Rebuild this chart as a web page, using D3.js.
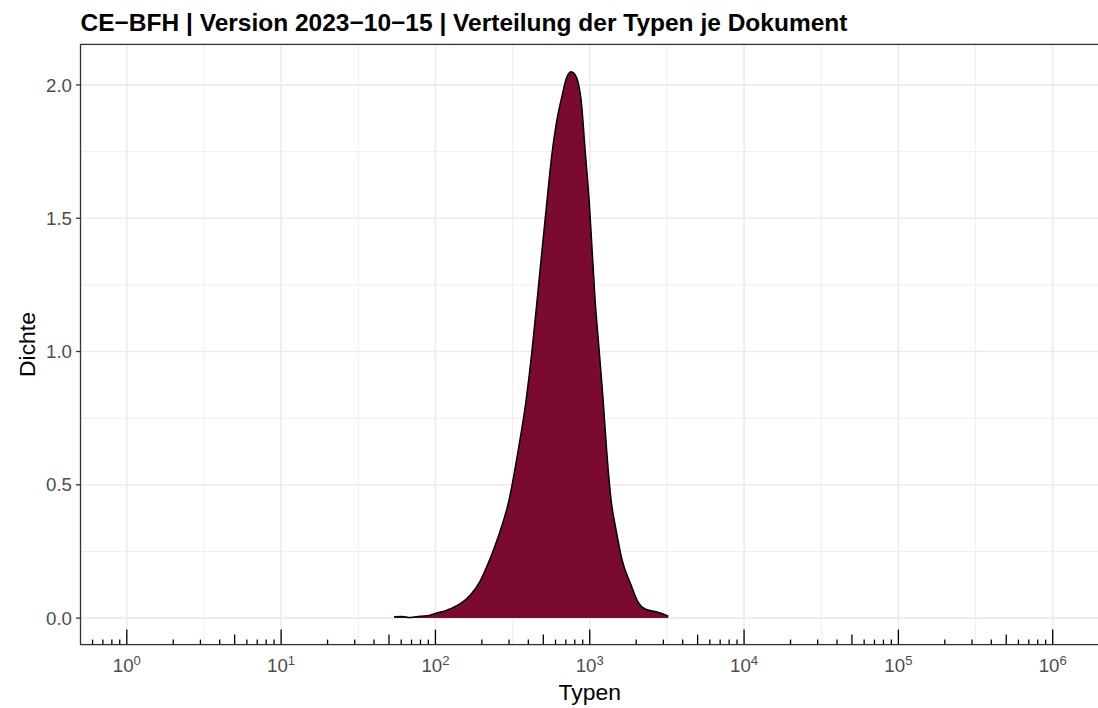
<!DOCTYPE html>
<html>
<head>
<meta charset="utf-8">
<script src="https://cdn.jsdelivr.net/npm/d3@7"></script>
<style>
  body { margin: 0; background: #fff; }
  svg { display: block; font-family: "Liberation Sans", Arial, sans-serif; }
</style>
</head>
<body>
<svg id="chart" width="1098" height="708"></svg>
<script>
// density of types per document
const typen = [54, 60.8, 68.5, 79.5, 92.3, 102.5, 119, 145, 168, 195, 216, 251, 300, 344, 387, 423, 456, 491, 529, 570, 605, 662, 703, 757, 804, 841, 879, 933, 990, 1036, 1083, 1150, 1221, 1286, 1375, 1482, 1620, 1852, 2056, 2282, 2730, 3230];
const dichte = [0.005, 0.006, 0.002, 0.007, 0.011, 0.019, 0.030, 0.054, 0.086, 0.139, 0.195, 0.293, 0.443, 0.630, 0.818, 1.006, 1.193, 1.381, 1.568, 1.745, 1.850, 1.960, 2.022, 2.049, 2.038, 2.008, 1.944, 1.756, 1.568, 1.381, 1.193, 1.006, 0.818, 0.630, 0.443, 0.330, 0.218, 0.124, 0.060, 0.034, 0.023, 0.0075];

const yTicks = [0, 0.5, 1, 1.5, 2];
const yMinor = [0.25, 0.75, 1.25, 1.75];
const xDecades = [0, 1, 2, 3, 4, 5, 6];

const title = "CE\u2212BFH | Version 2023\u221210\u221215 | Verteilung der Typen je Dokument";

const svg = d3.select("#chart");
const pLeft = 80.5, pRight = 1099, pTop = 44.4, pBottom = 644.6;

const x = d3.scaleLog()
    .domain([Math.pow(10, -0.3), Math.pow(10, 6.3)])
    .range([pLeft, pRight]);
const y = d3.scaleLinear()
    .domain([-0.0994, 2.152])
    .range([pBottom, pTop]);

const data = typen.map((t, i) => ({t: t, d: dichte[i]}));

const panel = svg.append("g");
panel.append("defs").append("clipPath").attr("id", "clip")
    .append("rect").attr("x", pLeft).attr("y", pTop)
    .attr("width", pRight - pLeft).attr("height", pBottom - pTop);

// grid
const grid = panel.append("g").attr("stroke", "#ebebeb");
grid.selectAll("line.ymin").data(yMinor).enter().append("line")
    .attr("x1", pLeft).attr("x2", pRight)
    .attr("y1", d => y(d)).attr("y2", d => y(d))
    .attr("stroke-width", 0.8);
grid.selectAll("line.xmin").data(xDecades.concat([-1])).enter().append("line")
    .attr("x1", d => x(Math.pow(10, d + 0.5))).attr("x2", d => x(Math.pow(10, d + 0.5)))
    .attr("y1", pTop).attr("y2", pBottom)
    .attr("stroke-width", 0.8)
    .attr("clip-path", "url(#clip)");
grid.selectAll("line.ymaj").data(yTicks).enter().append("line")
    .attr("x1", pLeft).attr("x2", pRight)
    .attr("y1", d => y(d)).attr("y2", d => y(d))
    .attr("stroke-width", 1.6);
grid.selectAll("line.xmaj").data(xDecades).enter().append("line")
    .attr("x1", d => x(Math.pow(10, d))).attr("x2", d => x(Math.pow(10, d)))
    .attr("y1", pTop).attr("y2", pBottom)
    .attr("stroke-width", 1.6);

// density
const area = d3.area()
    .x(d => x(d.t))
    .y0(y(0))
    .y1(d => y(d.d))
    .curve(d3.curveMonotoneX);
const line = d3.line()
    .x(d => x(d.t))
    .y(d => y(d.d))
    .curve(d3.curveMonotoneX);

panel.append("path").datum(data)
    .attr("d", area)
    .attr("fill", "#7b0a31");
panel.append("path").datum(data)
    .attr("d", line)
    .attr("fill", "none")
    .attr("stroke", "#000")
    .attr("stroke-width", 1.5);

// log ticks
let logticks = [];
for (let k = -1; k <= 6; k++) {
    for (let m = 1; m <= 9; m++) {
        const v = m * Math.pow(10, k);
        const len = m === 1 ? 15 : (m === 5 ? 10 : 5);
        logticks.push({v: v, len: len});
    }
}
logticks = logticks.filter(d => x(d.v) > pLeft + 1 && x(d.v) < pRight);
panel.append("g").selectAll("line").data(logticks).enter().append("line")
    .attr("x1", d => x(d.v)).attr("x2", d => x(d.v))
    .attr("y1", pBottom).attr("y2", d => pBottom - d.len)
    .attr("stroke", "#000").attr("stroke-width", 1.3);

// border
panel.append("rect")
    .attr("x", pLeft).attr("y", pTop)
    .attr("width", pRight - pLeft).attr("height", pBottom - pTop)
    .attr("fill", "none").attr("stroke", "#333").attr("stroke-width", 1.3);

// y axis
const yAxis = svg.append("g");
yAxis.selectAll("line").data(yTicks).enter().append("line")
    .attr("x1", pLeft - 4.5).attr("x2", pLeft)
    .attr("y1", d => y(d)).attr("y2", d => y(d))
    .attr("stroke", "#333").attr("stroke-width", 1.3);
yAxis.selectAll("text").data(yTicks).enter().append("text")
    .attr("x", pLeft - 8.5)
    .attr("y", d => y(d) + 6.6)
    .attr("text-anchor", "end")
    .attr("fill", "#4d4d4d")
    .style("font-size", "18.7px")
    .text(d => d3.format(".1f")(d));

// x axis labels 10^k
const xl = svg.append("g").selectAll("text").data(xDecades).enter().append("text")
    .attr("x", d => x(Math.pow(10, d)))
    .attr("y", 672)
    .attr("text-anchor", "middle")
    .attr("fill", "#4d4d4d")
    .style("font-size", "18.7px");
xl.append("tspan").text("10");
xl.append("tspan").attr("dy", -7).style("font-size", "13.1px").text(d => d);

// titles
svg.append("text")
    .attr("x", (pLeft + pRight) / 2).attr("y", 700)
    .attr("text-anchor", "middle")
    .style("font-size", "22.9px")
    .text("Typen");
svg.append("text")
    .attr("transform", "translate(35," + ((pTop + pBottom) / 2) + ") rotate(-90)")
    .attr("text-anchor", "middle")
    .style("font-size", "22.9px")
    .text("Dichte");
svg.append("text")
    .attr("x", pLeft).attr("y", 30.7)
    .style("font-size", "24.5px")
    .style("font-weight", "bold")
    .text(title);
</script>
</body>
</html>
